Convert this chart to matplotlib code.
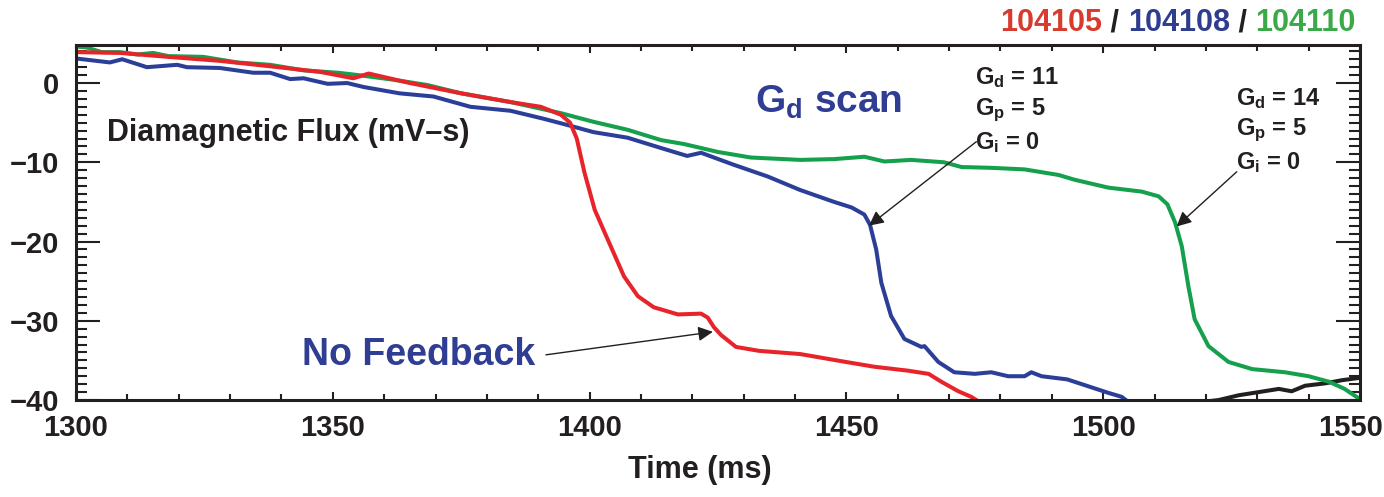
import matplotlib.pyplot as plt
from matplotlib.ticker import MultipleLocator, FuncFormatter

plt.rcParams['font.family'] = ['Liberation Sans Narrow', 'Liberation Sans', 'DejaVu Sans']
plt.rcParams['font.weight'] = 'bold'
plt.rcParams['mathtext.default'] = 'regular'

# shot 104105, no feedback
t_105 = [1300, 1308.6, 1318, 1328, 1338, 1347.6, 1354, 1357, 1365, 1375, 1384.6,
         1390.5, 1394.4, 1396.2, 1397.5, 1399, 1401, 1403.5, 1406.7, 1409.4, 1412.5,
         1417.2, 1421.7, 1423, 1424.2, 1425.6, 1428.5, 1433, 1441, 1449, 1455.4,
         1462, 1466, 1468.5, 1471.8, 1474.3, 1476]
f_105 = [3.9, 3.8, 3.3, 2.8, 2.1, 1.4, 0.6, 1.2, 0.0, -1.3, -2.4,
         -3.0, -4.0, -5.0, -7.0, -11.3, -16.0, -19.7, -24.4, -26.9, -28.3,
         -29.2, -29.1, -29.6, -30.8, -31.8, -33.3, -33.8, -34.2, -35.1, -35.8,
         -36.3, -36.7, -37.7, -38.9, -39.6, -40.3]

# shot 104108, Gd = 11
t_108 = [1300, 1306.6, 1309, 1313.8, 1319.7, 1321.6, 1328, 1334.5, 1337.8, 1341.7,
         1344.3, 1349, 1352.8, 1356, 1363, 1369.6, 1376.8, 1384.6, 1391, 1395.7,
         1400.8, 1407.4, 1413.9, 1419, 1421.7, 1428, 1434.7, 1441, 1447.6, 1451,
         1453.5, 1454.6, 1455.8, 1456.8, 1458.7, 1461.3, 1464.6, 1465.2, 1467.9, 1471,
         1475, 1478.2, 1481.5, 1484.7, 1486, 1488, 1493, 1497.7, 1501, 1503.6, 1505]
f_108 = [3.1, 2.6, 3.0, 2.0, 2.3, 2.0, 1.9, 1.3, 1.3, 0.5,
         0.6, -0.1, 0.0, -0.5, -1.3, -1.7, -3.0, -3.5, -4.5, -5.3,
         -6.2, -6.9, -8.2, -9.2, -8.8, -10.3, -11.8, -13.5, -15.0, -15.7,
         -16.6, -17.9, -21.0, -25.2, -29.4, -32.3, -33.3, -33.2, -35.2, -36.5,
         -36.7, -36.5, -37.0, -37.0, -36.5, -37.0, -37.4, -38.4, -39.1, -39.6, -40.3]

# shot 104110, Gd = 14
t_110 = [1300, 1302, 1305, 1308.6, 1312, 1315, 1318, 1324.8, 1331.4, 1337.8,
         1344.3, 1351, 1355, 1362, 1368.4, 1375, 1384.6, 1394.4, 1400.8, 1407.4,
         1413.9, 1418.4, 1425, 1431.4, 1441, 1447.6, 1453.5, 1457.4, 1462.6, 1469,
         1472.4, 1478.2, 1484.7, 1491.3, 1494.4, 1501, 1507.5, 1510.8, 1512.5, 1514,
         1515.3, 1516.6, 1517.8, 1520.5, 1524.4, 1529, 1535.4, 1540, 1544, 1547, 1550]
f_110 = [4.6, 4.5, 3.9, 3.9, 3.6, 3.8, 3.4, 3.3, 2.6, 2.3,
         1.6, 1.3, 1.0, 0.4, -0.25, -1.3, -2.4, -3.8, -4.9, -5.9,
         -7.2, -7.7, -8.7, -9.4, -9.7, -9.6, -9.3, -9.9, -9.7, -10.0,
         -10.6, -10.7, -10.9, -11.6, -12.2, -13.2, -13.7, -14.3, -15.3, -17.6,
         -20.6, -25.7, -29.8, -33.2, -35.2, -36.1, -36.5, -37.0, -37.7, -38.6, -39.9]

# extra black trace in the lower right corner
t_k = [1518.6, 1522.5, 1526.4, 1530.3, 1534.2, 1536.7, 1539.3, 1543.2, 1546.5, 1550]
f_k = [-40.3, -40.0, -39.4, -39.0, -38.6, -38.9, -38.2, -37.9, -37.5, -37.2]

shots = ['104105', '104108', '104110']
colors = ['#e8242b', '#2b3f98', '#14a04c']
txt_colors = ['#d93a2e', '#2f3d8f', '#3aaa48']
ink = '#231f20'
t_end = 1550

fig = plt.figure(figsize=(13.84, 4.97), dpi=100)
ax = fig.add_axes([76/1384, 97/497, 1284/1384, 355/497])

lw = 2.9
ax.plot(t_k, f_k, color=ink, lw=lw, solid_capstyle='butt')
ax.plot(t_110, f_110, color=colors[2], lw=lw)
ax.plot(t_108, f_108, color=colors[1], lw=lw)
ax.plot(t_105, f_105, color=colors[0], lw=lw)

ax.set_xlim(1300, t_end)
ax.set_ylim(-40, 4.8)
ax.xaxis.set_major_locator(MultipleLocator(50))
ax.xaxis.set_minor_locator(MultipleLocator(10))
ax.yaxis.set_major_locator(MultipleLocator(10))
ax.yaxis.set_minor_locator(MultipleLocator(1))
# the last time label is drawn separately, nudged inside the figure
ax.xaxis.set_major_formatter(FuncFormatter(
    lambda v, p: '' if abs(v - t_end) < 1e-6 else f'{v:.0f}'))

for s in ax.spines.values():
    s.set_linewidth(2.2)
    s.set_color(ink)

ax.tick_params(axis='x', which='both', direction='in', top=True, bottom=True,
               width=1.5, color=ink, labelsize=21, labelcolor=ink, pad=10)
ax.tick_params(axis='x', which='major', length=6)
ax.tick_params(axis='x', which='minor', length=4)
ax.tick_params(axis='y', which='both', direction='in', left=True, right=True,
               width=1.5, color=ink, labelsize=21, labelcolor=ink, pad=12)
ax.tick_params(axis='y', which='major', length=17)
ax.tick_params(axis='y', which='minor', length=8)

ax.annotate(f'{t_end}', xy=(t_end, 0), xycoords=('data', 'axes fraction'),
            xytext=(-7, -10), textcoords='offset points', ha='center', va='top',
            fontsize=21, fontweight='bold', color=ink)

fig.text(700/1384, 0.055, 'Time (ms)', ha='center', va='center',
         fontsize=22, fontweight='bold', color=ink)

ax.text(1306, -6.3, 'Diamagnetic Flux (mV\u2013s)', fontsize=22, fontweight='bold',
        color=ink, va='center', ha='left')
ax.text(1432.3, -2.4, r'G$_{d}$ scan', fontsize=28, fontweight='bold',
        color='#2f3d93', va='center', ha='left')

gains = [('11', 1475.0, 0.65), ('14', 1525.8, -1.95)]
for gd, xg, yg in gains:
    for k, line in enumerate([r'G$_{d}$ = ' + gd, r'G$_{p}$ = 5', r'G$_{i}$ = 0']):
        ax.text(xg, yg - 4.05 * k, line, fontsize=17, fontweight='bold',
                color=ink, va='center', ha='left')

arrow = dict(arrowstyle='-|>', color=ink, lw=1.0, mutation_scale=22,
             shrinkA=0, shrinkB=0)
ax.text(1389.5, -34.3, 'No Feedback', fontsize=27, fontweight='bold',
        color='#2f3d93', ha='right', va='center')
ax.annotate('', xy=(1424, -31.4), xytext=(1391.5, -34.3), arrowprops=arrow)
ax.annotate('', xy=(1454.4, -18.0), xytext=(1475.3, -7.4), arrowprops=arrow)
ax.annotate('', xy=(1514.3, -18.1), xytext=(1526.0, -11.2), arrowprops=arrow)

# colored shot numbers, built right to left from the axes corner
pieces = [shots[0], ' / ', shots[1], ' / ', shots[2]]
pcolors = [txt_colors[0], ink, txt_colors[1], ink, txt_colors[2]]
prev = ax.annotate(pieces[-1], xy=(1.0, 1.0), xycoords='axes fraction',
                   xytext=(-3, 5), textcoords='offset points',
                   ha='right', va='bottom', fontsize=22, fontweight='bold',
                   color=pcolors[-1])
for p, c in zip(pieces[-2::-1], pcolors[-2::-1]):
    prev = ax.annotate(p, xy=(0, 0), xycoords=prev, ha='right', va='bottom',
                       fontsize=22, fontweight='bold', color=c)

fig.savefig('out.png', dpi=100)
